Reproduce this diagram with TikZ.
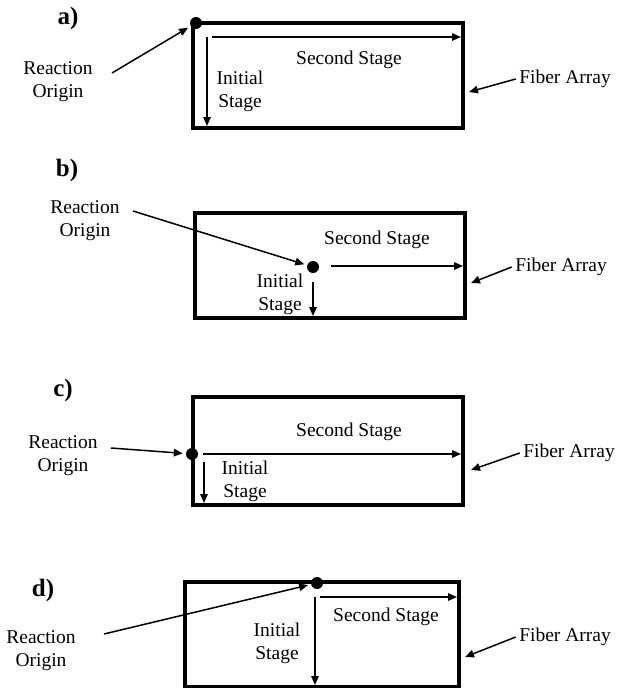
\documentclass[tikz,border=0pt]{standalone}
\usepackage{fontspec}
\setmainfont{Liberation Serif}
\usetikzlibrary{arrows.meta}

\begin{document}
\begin{tikzpicture}[x=1pt, y=-1pt,
  font=\fontsize{19.5}{23}\selectfont,
  box/.style={line width=3.5pt},
  arr/.style={line width=1.5pt, -{Triangle[length=9pt,width=7.5pt]}},
  dot/.style={circle, fill, inner sep=0pt, minimum size=12pt},
  lbl/.style={font=\fontsize{25}{28}\selectfont\bfseries},
  txt/.style={align=center, inner sep=1pt}]

  \useasboundingbox (0,0) rectangle (632,688);

  % a)
  \node[lbl] (la) at (68,18) {a)};
  \draw[box] (193,23) rectangle (463,128);
  \node[dot] (oa) at (196,23) {};
  \node[txt] (ra) at (58,82) {Reaction\\Origin};
  \coordinate (ta) at (112,73);
  \draw[arr, shorten >=3pt] (ta) -- (oa);
  \coordinate (sa0) at (212,37);
  \coordinate (sa1) at (461,37);
  \draw[arr] (sa0) -- (sa1);
  \node (ssa) at (349,60) {Second Stage};
  \coordinate (ia0) at (207,37);
  \coordinate (ia1) at (207,126);
  \draw[arr] (ia0) -- (ia1);
  \node[txt] (isa) at (240,91) {Initial\\Stage};
  \node (fa) at (565,79) {Fiber Array};
  \coordinate (ea) at (469,92);
  \draw[arr] (fa.west) -- (ea);

  % b)
  \node[lbl] (lb) at (67,170) {b)};
  \draw[box] (195,213) rectangle (465,318);
  \node[dot] (ob) at (313,267) {};
  \node[txt] (rb) at (85,221) {Reaction\\Origin};
  \coordinate (tb) at (133,211);
  \draw[arr, shorten >=3pt] (tb) -- (ob);
  \coordinate (sb0) at (331,266);
  \coordinate (sb1) at (463,266);
  \draw[arr] (sb0) -- (sb1);
  \node (ssb) at (377,240) {Second Stage};
  \coordinate (ib0) at (313,282);
  \coordinate (ib1) at (313,316);
  \draw[arr] (ib0) -- (ib1);
  \node[txt] (isb) at (280,294) {Initial\\Stage};
  \node (fb) at (561,267) {Fiber Array};
  \coordinate (eb) at (471,283);
  \draw[arr] (fb.west) -- (eb);

  % c)
  \node[lbl] (lc) at (63,390) {c)};
  \draw[box] (193,397) rectangle (463,505);
  \node[dot] (oc) at (192,454) {};
  \node[txt] (rc) at (63,456) {Reaction\\Origin};
  \coordinate (tc) at (111,448);
  \draw[arr, shorten >=3pt] (tc) -- (oc);
  \coordinate (sc0) at (203,454);
  \coordinate (sc1) at (461,454);
  \draw[arr] (sc0) -- (sc1);
  \node (ssc) at (349,432) {Second Stage};
  \coordinate (ic0) at (204,462);
  \coordinate (ic1) at (204,503);
  \draw[arr] (ic0) -- (ic1);
  \node[txt] (isc) at (245,481) {Initial\\Stage};
  \node (fc) at (569,453) {Fiber Array};
  \coordinate (ec) at (471,470);
  \draw[arr] (fc.west) -- (ec);

  % d)
  \node[lbl] (ld) at (43,590) {d)};
  \draw[box] (185,582) rectangle (459,687);
  \node[dot] (od) at (317,583) {};
  \node[txt] (rd) at (41,651) {Reaction\\Origin};
  \coordinate (td) at (104,634);
  \draw[arr, shorten >=3pt] (td) -- (od);
  \coordinate (sd0) at (320,597);
  \coordinate (sd1) at (457,597);
  \draw[arr] (sd0) -- (sd1);
  \node (ssd) at (386,617) {Second Stage};
  \coordinate (id0) at (315,597);
  \coordinate (id1) at (315,685);
  \draw[arr] (id0) -- (id1);
  \node[txt] (isd) at (277,643) {Initial\\Stage};
  \node (fd) at (565,637) {Fiber Array};
  \coordinate (ed) at (465,657);
  \draw[arr] (fd.west) -- (ed);
\end{tikzpicture}
\end{document}
